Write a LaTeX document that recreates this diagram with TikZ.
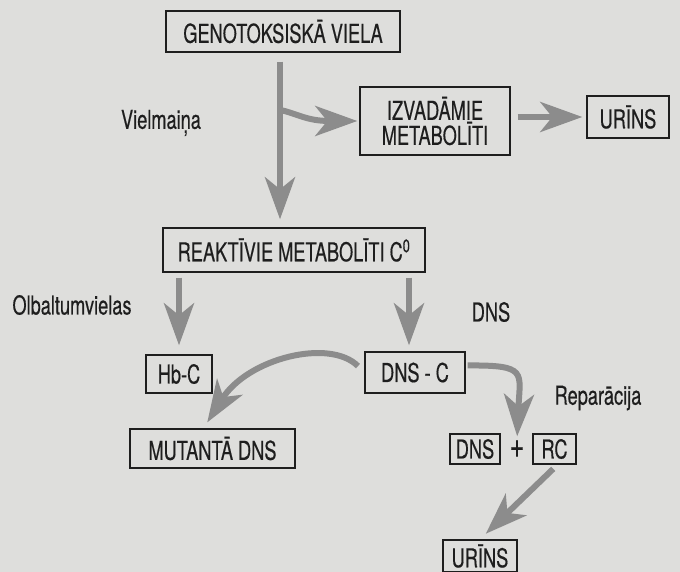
\documentclass[tikz,border=0pt]{standalone}
\usepackage{fontspec}
\setmainfont{TeX Gyre Heros}[FakeStretch=0.70, FakeBold=0.4]
\usetikzlibrary{arrows.meta}
\definecolor{Inkcolor}{RGB}{30, 30, 30}
\definecolor{Arrowcolor}{RGB}{140, 140, 140}
\definecolor{Papercolor}{RGB}{222, 222, 220}
\def\boxline{1.4}
\def\flowwidth{6}

\begin{document}
\begin{tikzpicture}[x=1pt, y=-1pt, font=\fontsize{26}{25}\selectfont,
    box/.style={draw=Inkcolor, shape=rectangle, line width=\boxline pt, inner sep=0pt, text=Inkcolor, align=center},
    flow/.style={draw=Arrowcolor, line width=\flowwidth pt, -{Stealth[length=42pt, width=30pt, inset=12pt]}},
    sidetext/.style={text=Inkcolor, inner sep=0pt}]
    % page
    \fill[Papercolor] (0, 0) rectangle (680, 572);
    \useasboundingbox (0, 0) rectangle (680, 572);
    % top row
    \node[box, minimum width=234, minimum height=41] (gen) at (283, 31.5) {GENOTOKSISKĀ VIELA};
    \node[box, minimum width=150, minimum height=68] (izv) at (435, 121) {IZVADĀMIE\\METABOLĪTI};
    \node[box, minimum width=82, minimum height=42] (urinsA) at (628, 117) {URĪNS};
    \node[sidetext] (vielm) at (161, 123) {Vielmaiņa};
    % reactive metabolites
    \node[box, minimum width=262, minimum height=44] (reak) at (294, 250) {REAKTĪVIE METABOLĪTI C\textsuperscript{0}};
    \node[sidetext] (olb) at (72, 305) {Olbaltumvielas};
    \node[sidetext] (dnsl) at (491, 312) {DNS};
    \node[box, minimum width=66, minimum height=38] (hbc) at (179, 374) {Hb-C};
    \node[box, minimum width=100, minimum height=41] (dnsc) at (415, 372.5) {DNS - C};
    \coordinate (split) at (280, 110);
    \draw[flow, shorten <=9pt, shorten >=8pt] (gen.south -| split) -- (reak.north -| split);
    \draw[flow, shorten >=2pt] (split) .. controls (296, 113) and (306, 121) .. (izv.west);
    \draw[flow, shorten <=7pt, shorten >=4pt] (izv.east |- urinsA) -- (urinsA.west);
    \draw[flow, shorten <=5pt, shorten >=9pt] (reak.south -| hbc) -- (hbc.north);
    \draw[flow, shorten <=5pt, shorten >=6pt] ([xshift=-6pt]reak.south -| dnsc) -- ([xshift=-6pt]dnsc.north);
    % results
    \node[box, minimum width=165, minimum height=39] (mut) at (212.5, 448.5) {MUTANTĀ DNS};
    \node[box, minimum width=50, minimum height=30] (dnsr) at (475, 449) {DNS};
    \node[sidetext, font=\fontsize{36}{36}\selectfont] (plus) at (517, 449) {+};
    \node[box, minimum width=43, minimum height=30] (rc) at (554.5, 449) {RC};
    \node[sidetext] (rep) at (598, 398) {Reparācija};
    \node[box, minimum width=74, minimum height=32] (urinsB) at (480, 556) {URĪNS};
    \draw[flow, shorten <=9pt, shorten >=7pt] (dnsc.west) .. controls (330, 338) and (248, 358) .. ([xshift=-9pt]mut.north);
    \draw[flow, shorten <=2pt, shorten >=4pt] ([yshift=7pt]dnsc.east) .. controls (528, 365) and (520, 372) .. (plus.north);
    \draw[flow, shorten <=6pt, shorten >=8pt] ([xshift=3pt]rc.south) -- (urinsB.north);
\end{tikzpicture}
\end{document}
